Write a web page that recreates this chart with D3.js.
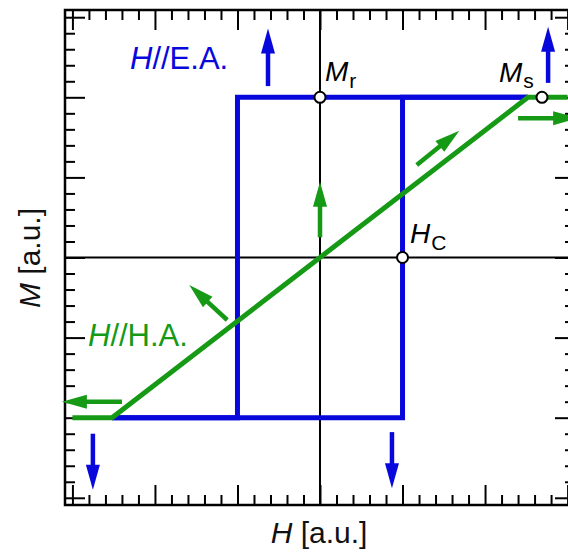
<!DOCTYPE html>
<html>
<head>
<meta charset="utf-8">
<script src="https://cdn.jsdelivr.net/npm/d3@7"></script>
<style>
  html, body { margin: 0; padding: 0; background: #fff; }
  svg { display: block; font-family: "Liberation Sans", Arial, sans-serif; }
</style>
</head>
<body>
<svg id="chart" width="568" height="552"></svg>
<script>
// Magnetisation curves: easy-axis square loop and hard-axis linear response
// (H in units where Hc = 0.5, M in units where Ms = 1)

const hc = 0.5;            // coercive field
const hSat = 1.26;         // hard-axis saturation field
const ms = 1;              // saturation magnetisation

// Easy-axis loop: ascending and descending branches
const easyUp   = [[-hSat, -ms], [hc, -ms], [hc, ms], [hSat, ms]];
const easyDown = [[hSat, ms], [-hc, ms], [-hc, -ms], [-hSat, -ms]];

// Hard-axis curve
const hardAxis = [[-1.5, -ms], [-hSat, -ms], [hSat, ms], [1.5, ms]];

// Marked points: remanence, saturation, coercivity
const markers = [
  { name: "Mr", h: 0, m: ms },
  { name: "Ms", h: 1.345, m: ms },
  { name: "Hc", h: hc, m: 0 }
];

// Field / moment direction arrows: [tail, tip]
const blueArrows = [
  [[-0.315, 1.07], [-0.315, 1.43]],
  [[1.382, 1.09], [1.382, 1.44]],
  [[-1.376, -1.10], [-1.376, -1.45]],
  [[0.436, -1.09], [0.436, -1.44]]
];
const greenArrows = [
  [[-1.2, -0.9], [-1.564, -0.9]],
  [[1.2, 0.87], [1.564, 0.87]],
  [[0, 0.126], [0, 0.473]],
  [[0.586, 0.577], [0.844, 0.792]],
  [[-0.562, -0.39], [-0.792, -0.172]]
];

// Tick values
const majorTicks = [-1.5, -1, -0.5, 0, 0.5, 1, 1.5];
const minorTicks = d3.range(-15, 16).map(k => k / 10).filter(v => !majorTicks.some(t => Math.abs(t - v) < 1e-9));

const blue = "#0808dc";
const green = "#169a16";

const svg = d3.select("#chart");
const frame = { left: 65, right: 575, top: 10, bottom: 505 };

const x = d3.scaleLinear().domain([-1.545, 1.545]).range([frame.left, frame.right]);
const y = d3.scaleLinear().domain([-1.545, 1.545]).range([frame.bottom, frame.top]);

// Inward ticks on all four sides
function tickAxis(axisFn, scale, values, len, transform) {
  const g = svg.append("g")
    .attr("transform", transform)
    .call(axisFn(scale).tickValues(values).tickSize(-len).tickFormat(""));
  g.select(".domain").remove();
  g.selectAll("line").attr("stroke", "#000").attr("stroke-width", 2);
}
[[majorTicks, 20], [minorTicks, 10]].forEach(([vals, len]) => {
  tickAxis(d3.axisBottom, x, vals, len, `translate(0,${frame.bottom})`);
  tickAxis(d3.axisTop, x, vals, len, `translate(0,${frame.top})`);
  tickAxis(d3.axisLeft, y, vals, len, `translate(${frame.left},0)`);
  tickAxis(d3.axisRight, y, vals, len, `translate(${frame.right},0)`);
});

// Frame
svg.append("rect")
  .attr("x", frame.left).attr("y", frame.top)
  .attr("width", frame.right - frame.left).attr("height", frame.bottom - frame.top)
  .attr("fill", "none").attr("stroke", "#000").attr("stroke-width", 2.5);

// Zero lines
svg.append("line")
  .attr("x1", x(0)).attr("x2", x(0)).attr("y1", frame.top).attr("y2", frame.bottom)
  .attr("stroke", "#000").attr("stroke-width", 2);
svg.append("line")
  .attr("x1", frame.left).attr("x2", frame.right).attr("y1", y(0)).attr("y2", y(0))
  .attr("stroke", "#000").attr("stroke-width", 2);

const line = d3.line().x(d => x(d[0])).y(d => y(d[1]));

// Easy-axis loop
[easyUp, easyDown].forEach(branch => {
  svg.append("path").attr("d", line(branch))
    .attr("fill", "none").attr("stroke", blue).attr("stroke-width", 5)
    .attr("stroke-linejoin", "miter");
});

// Hard-axis curve
svg.append("path").attr("d", line(hardAxis))
  .attr("fill", "none").attr("stroke", green).attr("stroke-width", 5)
  .attr("stroke-linejoin", "miter");

// Marker circles
svg.selectAll("circle.marker").data(markers).join("circle")
  .attr("class", "marker")
  .attr("cx", d => x(d.h)).attr("cy", d => y(d.m)).attr("r", 5.5)
  .attr("fill", "#fff").attr("stroke", "#000").attr("stroke-width", 2);

// Arrows: shaft plus narrow triangular head
function drawArrow(a, color) {
  const x0 = x(a[0][0]), y0 = y(a[0][1]), x1 = x(a[1][0]), y1 = y(a[1][1]);
  const len = Math.hypot(x1 - x0, y1 - y0);
  const ux = (x1 - x0) / len, uy = (y1 - y0) / len;
  const headLen = 25, headW = 7;
  const bx = x1 - ux * headLen, by = y1 - uy * headLen;
  svg.append("line")
    .attr("x1", x0).attr("y1", y0).attr("x2", bx + ux * 2).attr("y2", by + uy * 2)
    .attr("stroke", color).attr("stroke-width", 4.5);
  svg.append("path")
    .attr("d", `M${x1},${y1} L${bx - uy * headW},${by + ux * headW} L${bx + uy * headW},${by - ux * headW} Z`)
    .attr("fill", color);
}
blueArrows.forEach(a => drawArrow(a, blue));
greenArrows.forEach(a => drawArrow(a, green));

// Text helpers
function subLabel(px, py, main, sub, size, subSize, subDy) {
  const t = svg.append("text").attr("x", px).attr("y", py)
    .attr("font-size", size).attr("fill", "#000");
  t.append("tspan").attr("font-style", "italic").text(main);
  t.append("tspan").attr("font-size", subSize).attr("dy", subDy).attr("dx", 1).text(sub);
}
subLabel(325, 81, "M", "r", 28, 21, 7);
subLabel(499, 82, "M", "s", 28, 21, 6);
subLabel(410, 243, "H", "C", 28, 21, 7);

function curveLabel(px, py, rest, color) {
  const t = svg.append("text").attr("x", px).attr("y", py)
    .attr("font-size", 31).attr("fill", color);
  t.append("tspan").attr("font-style", "italic").text("H");
  t.append("tspan").text(rest);
}
curveLabel(130, 69, "//E.A.", blue);
curveLabel(88, 346, "//H.A.", green);

// Axis titles
const xt = svg.append("text").attr("x", 319).attr("y", 543)
  .attr("text-anchor", "middle").attr("font-size", 30).attr("fill", "#111");
xt.append("tspan").attr("font-style", "italic").text("H");
xt.append("tspan").text(" [a.u.]");

const yt = svg.append("text")
  .attr("transform", `translate(40,258) rotate(-90)`)
  .attr("text-anchor", "middle").attr("font-size", 30).attr("fill", "#111");
yt.append("tspan").attr("font-style", "italic").text("M");
yt.append("tspan").text(" [a.u.]");
</script>
</body>
</html>
